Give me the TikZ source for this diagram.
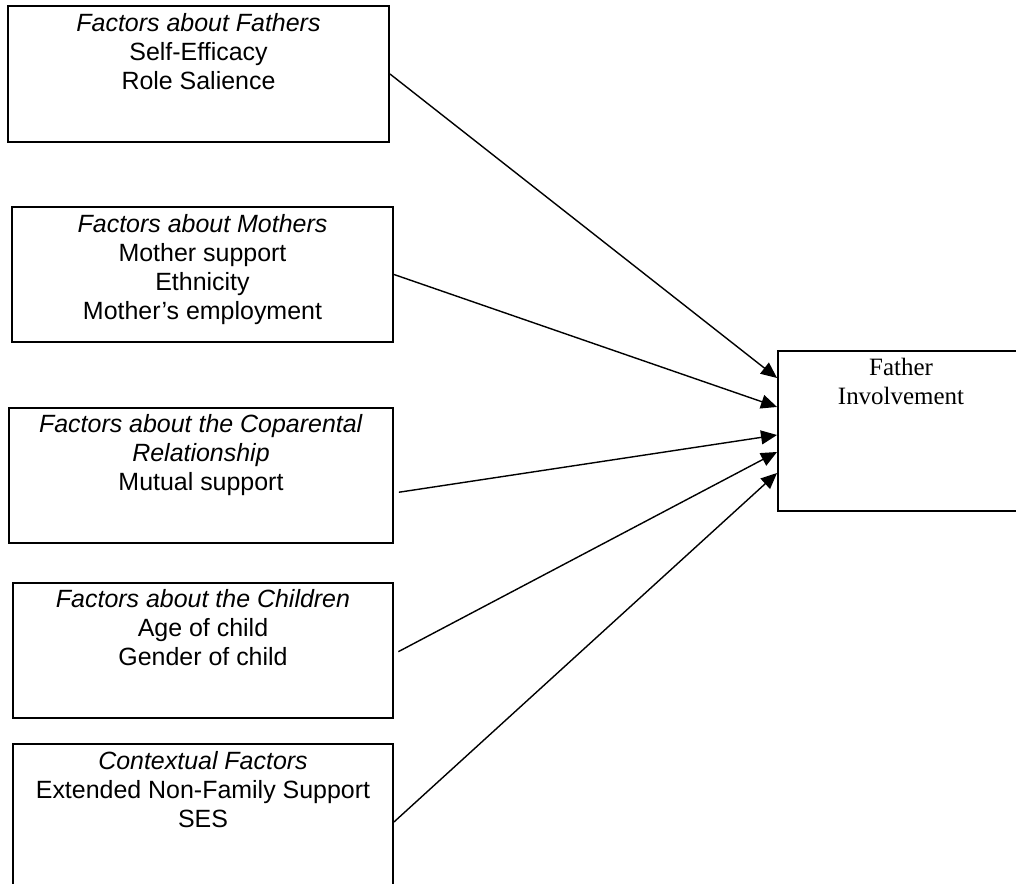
\documentclass[tikz,border=0pt]{standalone}
\usepackage{fontspec}
\setmainfont{Liberation Sans}
\newfontfamily\involvefont{Liberation Serif}
\usetikzlibrary{positioning,arrows.meta}

\begin{document}
\begin{tikzpicture}[>={Triangle[length=3.2mm,width=2.8mm]},
  factor/.style={draw,line width=1.1pt,minimum width=7.62cm,minimum height=2.7cm,inner sep=0pt},
  factortext/.style={inner sep=0pt,align=center,font=\fontsize{14.2}{16.5}\selectfont},
  link/.style={->,line width=0.8pt}]
\useasboundingbox (0,0) rectangle (20.32,17.68);
% factor boxes on the left
\node[factor,minimum height=2.72cm] (fathers) at (3.97,16.20) {};
\node[factortext,below=0.17cm of fathers.north] (fatherstext) {\textit{Factors about Fathers}\\Self-Efficacy\\Role Salience};
\node[factor] (mothers) at (4.05,12.19) {};
\node[factortext,below=0.16cm of mothers.north] (motherstext) {\textit{Factors about Mothers}\\Mother support\\Ethnicity\\Mother’s employment};
\node[factor,minimum width=7.68cm] (copar) at (4.02,8.17) {};
\node[factortext,below=0.15cm of copar.north] (copartext) {\textit{Factors about the Coparental}\\\textit{Relationship}\\Mutual support};
\node[factor,minimum width=7.6cm] (children) at (4.06,4.67) {};
\node[factortext,below=0.15cm of children.north] (childrentext) {\textit{Factors about the Children}\\Age of child\\Gender of child};
\node[factor,minimum width=7.6cm,minimum height=3.12cm] (context) at (4.06,1.24) {};
\node[factortext,below=0.16cm of context.north] (contexttext) {\textit{Contextual Factors}\\Extended Non-Family Support\\SES};
% outcome box
\node[factor,minimum width=4.92cm,minimum height=3.2cm] (involve) at (18.02,9.06) {};
\node[factortext,font=\involvefont\fontsize{14.2}{16.5}\selectfont,below=0.16cm of involve.north] (involvetext) {Father\\Involvement};
% arrows
\draw[link] (fathers.east) -- ([yshift=1.06cm]involve.west);
\draw[link] (mothers.east) -- ([yshift=0.48cm]involve.west);
\draw[link,shorten <=0.1cm] ([yshift=-0.35cm]copar.east) -- ([yshift=-0.08cm]involve.west);
\draw[link,shorten <=0.1cm] ([yshift=-0.07cm]children.east) -- ([yshift=-0.42cm]involve.west);
\draw[link] (context.east) -- ([yshift=-0.84cm]involve.west);
\end{tikzpicture}
\end{document}
